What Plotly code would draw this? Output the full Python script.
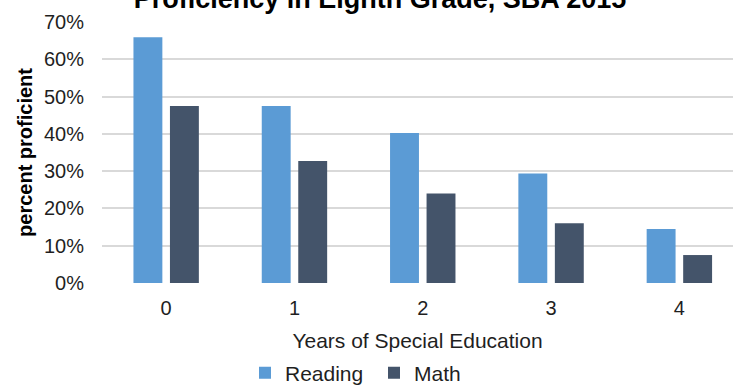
import plotly.graph_objects as go

categories = ["0", "1", "2", "3", "4"]
reading = [0.659, 0.475, 0.402, 0.294, 0.145]
math_vals = [0.475, 0.327, 0.240, 0.160, 0.075]
y_ticks = [0, 0.1, 0.2, 0.3, 0.4, 0.5, 0.6, 0.7]
y_tick_labels = ["0%", "10%", "20%", "30%", "40%", "50%", "60%", "70%"]

FONT = "Liberation Sans, Arial, sans-serif"
TXT = "#1f1f1f"

fig = go.Figure()
fig.add_trace(go.Bar(x=list(range(len(categories))), y=reading, name="Reading",
                     marker=dict(color="#5B9BD5", line=dict(width=0))))
fig.add_trace(go.Bar(x=list(range(len(categories))), y=math_vals, name="Math",
                     marker=dict(color="#44546A", line=dict(width=0))))

fig.update_layout(
    width=733, height=387,
    margin=dict(l=102, r=0, t=22, b=104),
    paper_bgcolor="white", plot_bgcolor="white",
    barmode="group", bargap=0.431, bargroupgap=0.208,
    font=dict(family=FONT, size=20, color=TXT),
    title=dict(text="<b>Proficiency in Eighth Grade, SBA 2015</b>",
               font=dict(size=27, color="#000000"),
               x=380/733, xanchor="center", xref="container",
               y=1 - 8/387, yanchor="bottom", yref="container",
               automargin=False),
    showlegend=True,
    legend=dict(orientation="h", x=245/733, xanchor="left", xref="container",
                y=1 - 373/387, yanchor="middle", yref="container",
                font=dict(size=21, color=TXT), itemwidth=30, entrywidth=84,
                bgcolor="rgba(0,0,0,0)", traceorder="normal"),
)
fig.update_xaxes(range=[-0.5, 4.418], tickmode="array",
                 tickvals=list(range(len(categories))), ticktext=categories,
                 showgrid=False, zeroline=False, showline=False, ticks="",
                 ticklabelstandoff=11, automargin=False,
                 title=dict(text="Years of Special Education", standoff=15,
                            font=dict(size=21, color=TXT)))
fig.update_yaxes(range=[0, 0.70], tickmode="array", tickvals=y_ticks,
                 ticktext=y_tick_labels, showgrid=True, gridcolor="#D9D9D9",
                 gridwidth=1.5, zeroline=False, showline=False, ticks="",
                 ticklabelstandoff=17, automargin=False,
                 title=dict(text="<b>percent proficient</b>", standoff=5,
                            font=dict(size=20, color="#000000")))

fig.write_html("out.html",
               config={"displayModeBar": False},
               post_script="document.body.style.margin='0';"
                           "document.documentElement.style.overflow='hidden';")
